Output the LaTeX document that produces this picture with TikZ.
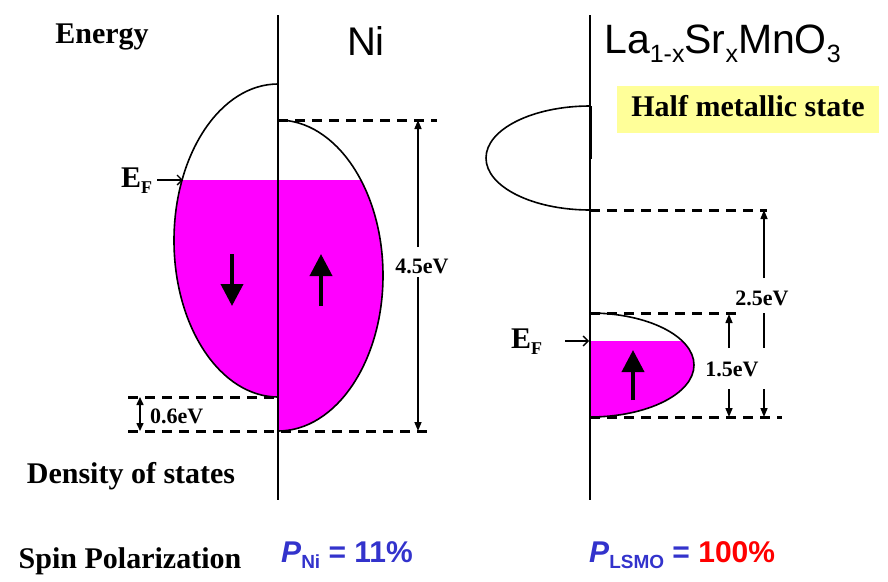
\documentclass[tikz,border=0pt]{standalone}
\usepackage{fontspec}
\setmainfont{Liberation Serif}
\setsansfont{Liberation Sans}
\usetikzlibrary{arrows.meta}
\definecolor{magfill}{RGB}{255,0,255}
\definecolor{pblue}{RGB}{51,51,204}
\definecolor{hlyellow}{RGB}{255,255,153}
\newcommand{\subtxt}[3]{\raisebox{-#3}{\fontsize{#1}{#1}\selectfont #2}}
\begin{document}
\begin{tikzpicture}[x=1pt,y=-1pt,
  axisline/.style={line width=2pt},
  bandline/.style={line width=1.6pt},
  dashline/.style={line width=3pt, dash pattern=on 10pt off 7pt},
  dimarrow/.style={line width=1.5pt, -{Triangle[width=7pt,length=9pt]}},
  dimboth/.style={line width=1.5pt, {Triangle[width=7pt,length=8pt]}-{Triangle[width=7pt,length=8pt]}},
  efarrow/.style={line width=1.3pt, -{Straight Barb[length=5pt,width=10pt]}},
  spinarrow/.style={line width=3.8pt, -{Triangle[width=22pt,length=22pt]}},
  lbl/.style={font=\fontsize{30}{34}\selectfont\bfseries, inner sep=0pt},
  evlbl/.style={font=\fontsize{22}{24}\selectfont\bfseries, inner sep=0pt},
  title/.style={font=\sffamily\fontsize{40}{44}\selectfont, inner sep=0pt},
  pol/.style={font=\sffamily\bfseries\fontsize{30}{34}\selectfont, inner sep=0pt, text=pblue},
]
\useasboundingbox (0,0) rectangle (888,581);

% ---------- Ni fills ----------
\begin{scope}
  \clip (0,180) rectangle (278,581);
  \fill[magfill] (278,240.5) ellipse [x radius=104, y radius=156.5];
\end{scope}
\begin{scope}
  \clip (278,180) rectangle (888,581);
  \fill[magfill] (278,275.5) ellipse [x radius=105, y radius=155.5];
\end{scope}
% Ni outlines
\draw[bandline] (278,397) arc [start angle=90, end angle=270, x radius=104, y radius=156.5];
\draw[bandline] (278,120) arc [start angle=270, end angle=450, x radius=105, y radius=155.5];

% ---------- LSMO fills ----------
\begin{scope}
  \clip (590,341) rectangle (888,581);
  \fill[magfill] (590,365) ellipse [x radius=104, y radius=52];
\end{scope}
\draw[bandline] (590,210) arc [start angle=90, end angle=270, x radius=104, y radius=52];
\draw[bandline] (590,313) arc [start angle=270, end angle=450, x radius=104, y radius=52];
\draw[line width=3pt] (590,106) -- (590,159);

% ---------- dashed levels ----------
\coordinate (niTopA) at (278,120);   \coordinate (niTopB) at (437,120);
\coordinate (niBotA) at (128,431);   \coordinate (niBotB) at (428,431);
\coordinate (niMidA) at (128,397);   \coordinate (niMidB) at (278,397);
\draw[dashline] (niTopA) -- (niTopB);
\draw[dashline] (niBotA) -- (niBotB);
\draw[dashline] (niMidA) -- (niMidB);
\coordinate (lsA1) at (590,210); \coordinate (lsB1) at (767,210);
\coordinate (lsA2) at (590,313); \coordinate (lsB2) at (740,313);
\coordinate (lsA3) at (590,417); \coordinate (lsB3) at (782,417);
\draw[dashline] (lsA1) -- (lsB1);
\draw[dashline] (lsA2) -- (lsB2);
\draw[dashline] (lsA3) -- (lsB3);

% ---------- axes ----------
\coordinate (niAxTop) at (278,15); \coordinate (niAxBot) at (278,500);
\coordinate (lsAxTop) at (590,15); \coordinate (lsAxBot) at (590,500);
\draw[axisline] (niAxTop) -- (niAxBot);
\draw[axisline] (lsAxTop) -- (lsAxBot);

% ---------- spin arrows ----------
\coordinate (dnA) at (232,254); \coordinate (dnB) at (232,306);
\coordinate (upA) at (321,306); \coordinate (upB) at (321,254);
\coordinate (lupA) at (633,400); \coordinate (lupB) at (633,350);
\draw[spinarrow] (dnA) -- (dnB);
\draw[spinarrow] (upA) -- (upB);
\draw[spinarrow] (lupA) -- (lupB);

% ---------- dimension arrows ----------
\node[evlbl, anchor=base] (ev45) at (422,273) {4.5eV};
\coordinate (a45a) at (418,247); \coordinate (a45b) at (418,120);
\coordinate (a45c) at (418,277); \coordinate (a45d) at (418,431);
\draw[dimarrow] (a45a) -- (a45b);
\draw[dimarrow] (a45c) -- (a45d);

\node[evlbl, anchor=base west] (ev06) at (150,423) {0.6eV};
\coordinate (a06a) at (140,397); \coordinate (a06b) at (140,431);
\draw[dimboth] (a06a) -- (a06b);

\node[evlbl, anchor=base] (ev25) at (762,305) {2.5eV};
\coordinate (a25a) at (764,278); \coordinate (a25b) at (764,210);
\coordinate (a25c) at (764,313); \coordinate (a25d) at (764,348);
\coordinate (a25e) at (764,389); \coordinate (a25f) at (764,417);
\draw[dimarrow] (a25a) -- (a25b);
\draw[line width=1.5pt] (a25c) -- (a25d);
\draw[dimarrow] (a25e) -- (a25f);

\node[evlbl, anchor=base] (ev15) at (732,376) {1.5eV};
\coordinate (a15a) at (729,348); \coordinate (a15b) at (729,314);
\coordinate (a15c) at (729,389); \coordinate (a15d) at (729,417);
\draw[dimarrow] (a15a) -- (a15b);
\draw[dimarrow] (a15c) -- (a15d);

% ---------- E_F labels ----------
\node[lbl, anchor=base west] (efni) at (121,187) {E\subtxt{18}{F}{6pt}};
\coordinate (efniA) at (157,180); \coordinate (efniB) at (183,180);
\draw[efarrow] (efniA) -- (efniB);
\node[lbl, anchor=base west] (efls) at (511,348) {E\subtxt{18}{F}{6pt}};
\coordinate (eflsA) at (565,341); \coordinate (eflsB) at (589,341);
\draw[efarrow] (eflsA) -- (eflsB);

% ---------- texts ----------
\node[lbl, anchor=base] (energy) at (102,43) {Energy};
\node[title, anchor=base] (ni) at (366,55) {Ni};
\node[title, font=\sffamily\fontsize{41}{44}\selectfont, anchor=base west] (lsmo) at (604,53) {La\subtxt{25}{1-x}{9pt}Sr\subtxt{25}{x}{9pt}MnO\subtxt{25}{3}{9pt}};
\node[lbl, fill=hlyellow, minimum width=262pt, minimum height=47pt, text height=20pt, text depth=6pt] (half) at (748,109.5) {Half metallic state};
\node[lbl, anchor=base] (dos) at (131,483) {Density of states};
\node[lbl, anchor=base] (spin) at (130,568) {Spin Polarization};
\node[pol, anchor=base west] (pni) at (281,562) {\textit{P}\subtxt{19}{Ni}{6pt} = 11\%};
\node[pol, anchor=base west] (plsmo) at (589,562) {\textit{P}\subtxt{19}{LSMO}{6pt} = \textcolor{red}{100\%}};
\end{tikzpicture}
\end{document}
